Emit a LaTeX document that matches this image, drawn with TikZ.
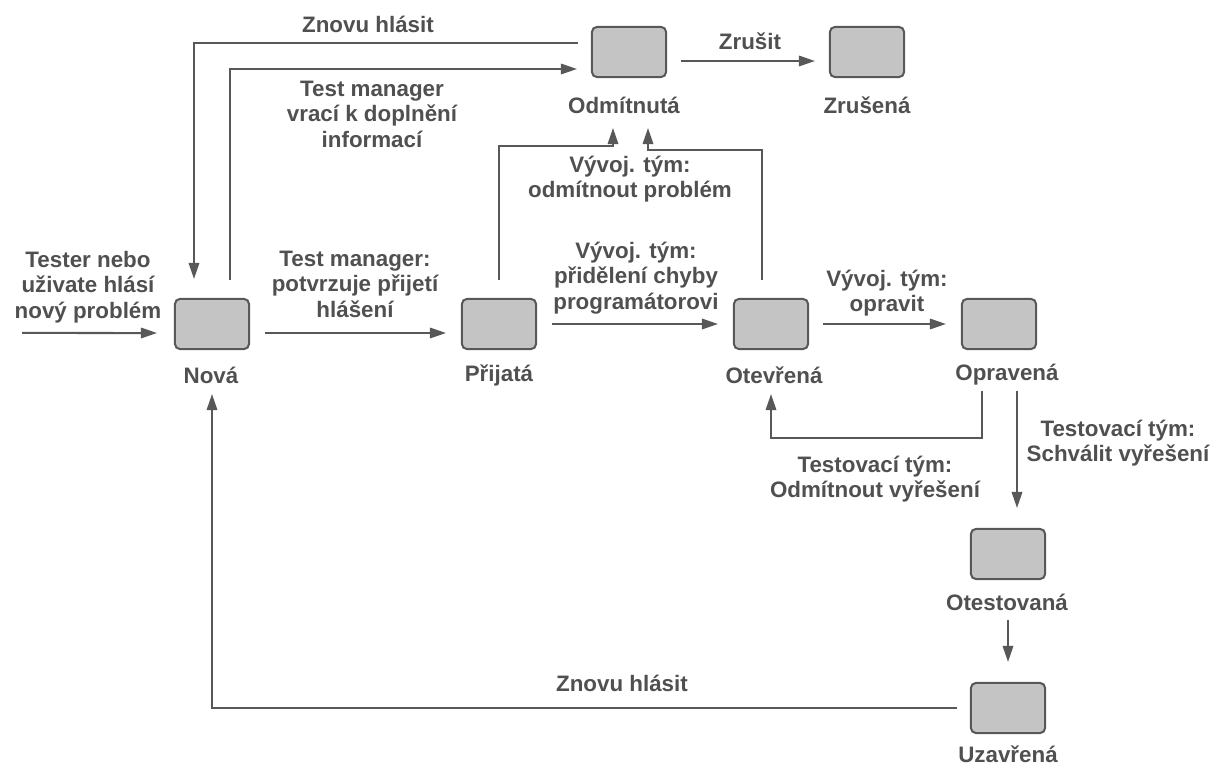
\documentclass[tikz,border=0pt]{standalone}
\usepackage{fontspec}
\setmainfont{Liberation Sans}
\usetikzlibrary{arrows.meta}
\definecolor{boxgray}{RGB}{196,196,196}
\definecolor{linegray}{RGB}{88,88,88}
\definecolor{txtgray}{RGB}{80,80,80}
\tikzset{
  state/.style={draw=linegray,fill=boxgray,rounded corners=0.12cm,line width=0.05cm,
    minimum width=1.85cm,minimum height=1.25cm,inner sep=0pt},
  stname/.style={text=txtgray,font=\bfseries\fontsize{15.9}{18.1}\selectfont,inner sep=0pt},
  note/.style={stname,align=center},
  flow/.style={->,draw=linegray,line width=0.05cm},
}
\begin{document}
\begin{tikzpicture}[x=0.025cm,y=-0.025cm,>={Triangle[length=0.4cm,width=0.26cm]}]
  \useasboundingbox (0,0) rectangle (1212,767);

  \node[state] (nova) at (212,324){};
  \node[state] (prijata) at (499,324){};
  \node[state] (otevrena) at (771,324){};
  \node[state] (opravena) at (999,324){};
  \node[state] (odmitnuta) at (629,52){};
  \node[state] (zrusena) at (867,52){};
  \node[state] (otestovana) at (1008,554){};
  \node[state] (uzavrena) at (1008,708){};

  \node[stname] (nova-n) at (211,375){Nová};
  \node[stname] (prijata-n) at (499,375){Přijatá};
  \node[stname] (otevrena-n) at (774,375){Otevřená};
  \node[stname] (opravena-n) at (1007,375){Opravená};
  \node[stname] (odmitnuta-n) at (624,105){Odmítnutá};
  \node[stname] (zrusena-n) at (867,105){Zrušená};
  \node[stname] (otestovana-n) at (1007,602){Otestovaná};
  \node[stname] (uzavrena-n) at (1008,754){Uzavřená};

  \node[note] (l-novy) at (88,287){Tester nebo\\uživate hlásí\\nový problém};
  \node[note] (l-potvrzuje) at (355,284){Test manager:\\potvrzuje přijetí\\hlášení};
  \node[note] (l-prideleni) at (636,278){Vývoj. tým:\\přidělení chyby\\programátorovi};
  \node[note] (l-opravit) at (887,293){Vývoj. tým:\\opravit};
  \node[note] (l-odmitnout) at (630,179){Vývoj. tým:\\odmítnout problém};
  \node[note] (l-vraci) at (372,114){Test manager\\vrací k doplnění\\informací};
  \node[note] (l-znovu1) at (368,24){Znovu hlásit};
  \node[note] (l-zrusit) at (750,41){Zrušit};
  \node[note] (l-schvalit) at (1118,443){Testovací tým:\\Schválit vyřešení};
  \node[note] (l-neschvalit) at (875,479){Testovací tým:\\Odmítnout vyřešení};
  \node[note] (l-znovu2) at (622,683){Znovu hlásit};

  \coordinate (vstup) at (22,333);
  \draw[flow,shorten >=0.425cm] (vstup) -- ([yshift=-0.225cm]nova.west);
  \draw[flow,shorten <=0.375cm,shorten >=0.375cm] ([yshift=-0.225cm]nova.east) -- ([yshift=-0.225cm]prijata.west);
  \draw[flow,shorten <=0.375cm,shorten >=0.375cm] (prijata.east) -- (otevrena.west);
  \draw[flow,shorten <=0.35cm,shorten >=0.375cm] (otevrena.east) -- (opravena.west);
  \draw[flow,shorten <=0.35cm,shorten >=0.35cm] ([yshift=-0.225cm]odmitnuta.east) -- ([yshift=-0.225cm]zrusena.west);

  \draw[flow] ([xshift=-0.325cm,yshift=0.225cm]odmitnuta.west) -| ([xshift=-0.45cm,yshift=0.475cm]nova.north);
  \draw[flow] ([xshift=0.45cm,yshift=0.45cm]nova.north) |- ([xshift=-0.35cm,yshift=-0.425cm]odmitnuta.west);

  \draw[flow] ([yshift=0.45cm]prijata.north) -- ++(0,-134) -| ([xshift=-0.4cm,yshift=-1.25cm]odmitnuta.south);
  \draw[flow] ([xshift=-0.225cm,yshift=0.45cm]otevrena.north) -- ++(0,-130) -| ([xshift=0.475cm,yshift=-1.25cm]odmitnuta.south);

  \draw[flow] ([xshift=-0.425cm,yshift=-1.025cm]opravena.south) -- ++(0,47) -| ([yshift=-1.1cm]otevrena.south);
  \coordinate (schvaleno) at ([xshift=0.45cm,yshift=-1.025cm]opravena.south);
  \draw[flow,shorten >=0.5cm] (schvaleno) -- (schvaleno |- otestovana.north);
  \draw[flow,shorten >=0.5cm] ([yshift=-1cm]otestovana.south) -- (uzavrena.north);

  \draw[flow] ([xshift=-0.325cm]uzavrena.west) -| ([yshift=-1.1cm]nova.south);
\end{tikzpicture}
\end{document}
